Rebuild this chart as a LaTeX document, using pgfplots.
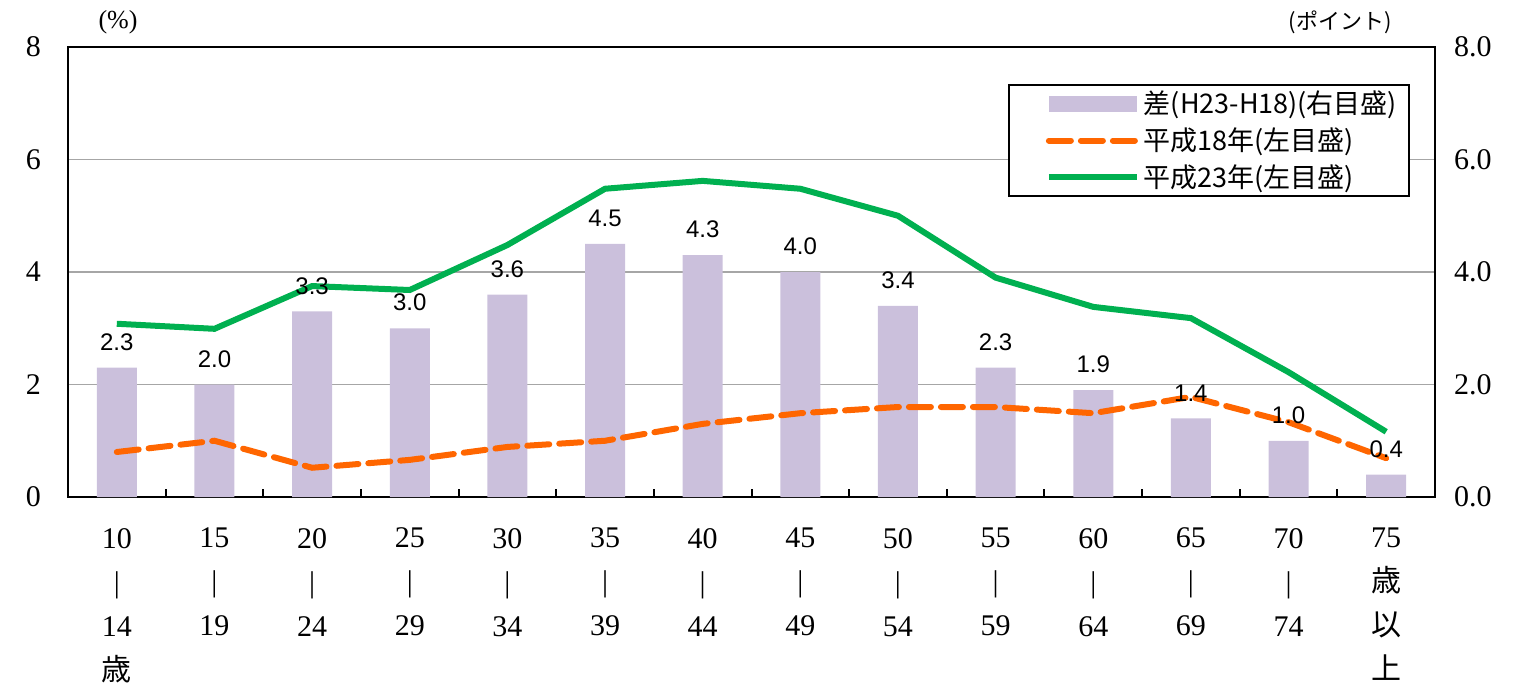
\documentclass[border=0pt]{standalone}
\usepackage{fontspec}
\setmainfont{Liberation Serif}
\newfontfamily\sans{Liberation Sans}
\newfontfamily\cjk{Noto Sans CJK JP}
\usepackage{pgfplots}
\pgfplotsset{compat=1.18}
\definecolor{barc}{RGB}{203,192,220}
\definecolor{orc}{RGB}{255,102,0}
\definecolor{grc}{RGB}{0,176,80}
\begin{document}
\begin{tikzpicture}
\begin{axis}[
  name=main,
  at={(0,0)}, anchor=south west,
  scale only axis, width=683.5pt, height=225pt,
  xmin=-0.5, xmax=13.5, ymin=0, ymax=8,
  xtick={0.5,1.5,...,12.5},
  xticklabels={},
  x tick style={draw=black, line width=1pt},
  major tick length=4pt,
  tick align=inside,
  xtick pos=bottom,
  extra x ticks={0,...,13},
  extra x tick labels={
    {10\\|\\14\\{\cjk 歳}},{15\\|\\19},{20\\|\\24},{25\\|\\29},{30\\|\\34},{35\\|\\39},{40\\|\\44},{45\\|\\49},{50\\|\\54},{55\\|\\59},{60\\|\\64},{65\\|\\69},{70\\|\\74},{75\\{\cjk 歳}\\{\cjk 以}\\{\cjk 上}}},
  extra x tick style={major tick length=0pt, tick style={draw=none},
    xticklabel style={align=center, font=\fontsize{15}{22}\selectfont, anchor=north, yshift=-12pt}},
  ytick={0,2,4,6,8},
  ytick pos=left,
  y tick style={draw=none},
  yticklabel style={font=\fontsize{15}{18}\selectfont, xshift=-10pt},
  /pgf/number format/assume math mode=true,
  ymajorgrids, grid style={gray!70, line width=0.8pt},
  axis line style={black, line width=1pt},
  legend style={at={(1,1)}, anchor=north east, xshift=-12.5pt, yshift=-18.5pt,
    draw=black, line width=1pt, font=\cjk\fontsize{13.5}{15}\selectfont,
    row sep=1.5pt, inner xsep=4pt, inner ysep=1pt, cells={anchor=west}},
  legend cell align=left,
  clip=false,
]
\addplot[ybar, bar width=20pt, fill=barc, draw=none,
  nodes near coords, nodes near coords style={font=\sans\fontsize{12}{14}\selectfont, /pgf/number format/fixed, /pgf/number format/precision=1, /pgf/number format/fixed zerofill, yshift=5pt},
  legend image code/.code={\path[draw=none,fill=none] (0pt,-1pt) rectangle (1pt,1pt);\fill[barc,draw=none] (16pt,-4pt) rectangle (60pt,4pt);}]
coordinates {(0,2.3)(1,2.0)(2,3.3)(3,3.0)(4,3.6)(5,4.5)(6,4.3)(7,4.0)(8,3.4)(9,2.3)(10,1.9)(11,1.4)(12,1.0)(13,0.4)};
\addlegendentry{差(H23-H18)(右目盛)}
\addplot[orc, line width=3pt, dash pattern=on 11pt off 5pt, line cap=round,
  legend image code/.code={\path[draw=none,fill=none] (0pt,-1pt) rectangle (1pt,1pt);\draw[orc, line width=3pt, dash pattern=on 11pt off 5pt] (16pt,0pt) -- (60pt,0pt);}]
coordinates {(0,0.80)(1,1.00)(2,0.52)(3,0.66)(4,0.89)(5,1.00)(6,1.30)(7,1.49)(8,1.60)(9,1.60)(10,1.49)(11,1.78)(12,1.33)(13,0.69)};
\addlegendentry{平成18年(左目盛)}
\addplot[grc, line width=3pt,
  legend image code/.code={\path[draw=none,fill=none] (0pt,-1pt) rectangle (1pt,1pt);\draw[grc, line width=3pt] (16pt,0pt) -- (60pt,0pt);}]
coordinates {(0,3.08)(1,2.99)(2,3.75)(3,3.68)(4,4.48)(5,5.48)(6,5.62)(7,5.48)(8,5.00)(9,3.90)(10,3.38)(11,3.18)(12,2.22)(13,1.16)};
\addlegendentry{平成23年(左目盛)}
\node[font=\fontsize{13}{15}\selectfont] at ([xshift=25pt,yshift=12.5pt]rel axis cs:0,1) {(\%)};
\node[font=\cjk\fontsize{11}{13}\selectfont] at ([xshift=-47.5pt,yshift=12.5pt]rel axis cs:1,1) {(ポイント)};
\end{axis}
\begin{axis}[
  at={(0,0)}, anchor=south west,
  scale only axis, width=683.5pt, height=225pt,
  xmin=-0.5, xmax=13.5, ymin=0, ymax=8,
  axis x line=none,
  axis y line*=right,
  ytick={0,2,4,6,8},
  y tick style={draw=none},
  axis line style={black, line width=1pt},
  yticklabel style={font=\fontsize{15}{18}\selectfont, xshift=6pt,
    /pgf/number format/fixed, /pgf/number format/precision=1, /pgf/number format/fixed zerofill},
  /pgf/number format/assume math mode=true,
]
\end{axis}
\pgfresetboundingbox
\useasboundingbox (-34pt,-95pt) rectangle (726pt,248.5pt);
\end{tikzpicture}
\end{document}
